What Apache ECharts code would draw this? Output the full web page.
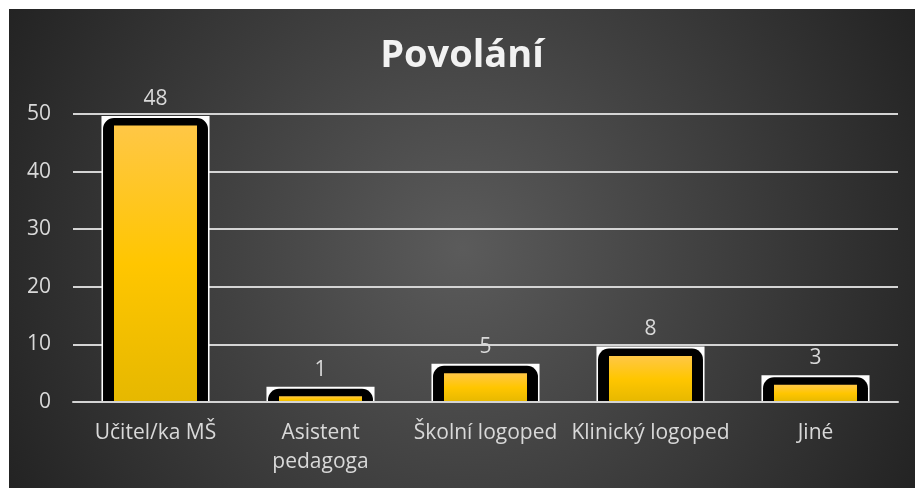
<!DOCTYPE html>
<html>
<head>
<meta charset="utf-8">
<script src="https://cdn.jsdelivr.net/npm/echarts@6/dist/echarts.min.js"></script>
<style>
  html, body { margin: 0; padding: 0; background: #ffffff; }
  #wrap { position: relative; width: 915px; height: 488px; overflow: hidden; background: #ffffff; }
  #chart { position: absolute; left: 9px; top: 9px; width: 906px; height: 479px; }
</style>
</head>
<body>
<div id="wrap"><div id="chart"></div></div>
<script>
// Chart title, categories and counts
const titleText = 'Povolání';
const categories = ['Učitel/ka MŠ', 'Asistent\npedagoga', 'Školní logoped', 'Klinický logoped', 'Jiné'];
const counts = [48, 1, 5, 8, 3];
const yTicks = [0, 10, 20, 30, 40, 50];

const FONT = '"Open Sans", "Noto Sans", sans-serif';
const TEXT_GRAY = '#d9d9d9';

const chart = echarts.init(document.getElementById('chart'), null, { renderer: 'canvas' });

// Each bar: white plate, black rounded frame and a gold gradient core
function renderBar(params, api) {
  const idx = api.value(0);
  const val = api.value(1);
  const base = api.coord([idx, 0]);
  const top = api.coord([idx, val]);
  const band = api.size([1, 0])[0];
  const cx = base[0];

  const plateW = band * 0.655;
  const frameW = band * 0.636;
  const coreW = band * 0.503;
  const coreTop = top[1];
  const frameTop = coreTop - 7.5;
  const plateTop = coreTop - 9.5;

  return {
    type: 'group',
    children: [
      {
        type: 'rect',
        shape: { x: cx - plateW / 2, y: plateTop, width: plateW, height: base[1] - plateTop + 1 },
        style: { fill: '#ffffff' }
      },
      {
        type: 'rect',
        shape: { x: cx - frameW / 2, y: frameTop, width: frameW, height: base[1] - frameTop, r: [11, 11, 0, 0] },
        style: { fill: '#000000' }
      },
      {
        type: 'rect',
        shape: { x: cx - coreW / 2, y: coreTop, width: coreW, height: base[1] - coreTop },
        style: {
          fill: new echarts.graphic.LinearGradient(0, 0, 0, 1, [
            { offset: 0, color: '#ffc746' },
            { offset: 0.5, color: '#ffc600' },
            { offset: 1, color: '#e6b800' }
          ])
        }
      },
      {
        type: 'text',
        style: {
          x: cx,
          y: plateTop - 17,
          text: String(val),
          fill: TEXT_GRAY,
          font: '21px ' + FONT,
          align: 'center',
          verticalAlign: 'middle'
        }
      }
    ]
  };
}

chart.setOption({
  animation: false,
  backgroundColor: {
    type: 'radial', x: 0.5, y: 0.5, r: 1.07,
    colorStops: [
      { offset: 0, color: '#5b5b5b' },
      { offset: 1, color: '#232323' }
    ]
  },
  title: {
    text: titleText,
    left: 'center',
    top: 23,
    textStyle: { color: '#f2f2f2', fontFamily: FONT, fontWeight: 'bold', fontSize: 38 }
  },
  grid: { left: 64, right: 17, top: 105, bottom: 86 },
  xAxis: {
    type: 'category',
    data: categories,
    z: 5,
    axisTick: { show: false },
    axisLine: { show: true, lineStyle: { color: '#d4d4d4', width: 2 } },
    axisLabel: { color: TEXT_GRAY, fontFamily: FONT, fontSize: 21, lineHeight: 29, margin: 17, interval: 0 }
  },
  yAxis: {
    type: 'value',
    min: yTicks[0],
    max: yTicks[yTicks.length - 1],
    interval: 10,
    axisLine: { show: false },
    axisTick: { show: false },
    splitLine: { lineStyle: { color: '#d4d4d4', width: 2 } },
    axisLabel: { color: TEXT_GRAY, fontFamily: FONT, fontSize: 21, margin: 22 }
  },
  series: [{
    type: 'custom',
    renderItem: renderBar,
    data: counts.map((v, i) => [i, v]),
    encode: { x: 0, y: 1 },
    z: 2
  }]
});
</script>
</body>
</html>
